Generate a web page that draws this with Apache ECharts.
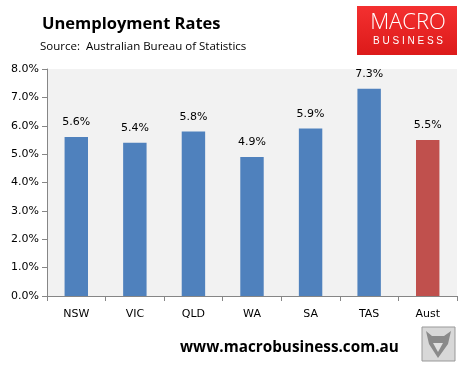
<!DOCTYPE html>
<html><head><meta charset="utf-8">
<script src="https://cdn.jsdelivr.net/npm/echarts@6/dist/echarts.min.js"></script>
<style>html,body{margin:0;padding:0;background:#fff}#c{width:468px;height:366px}</style>
</head><body><div id="c"></div>
<script>
const categories = ['NSW','VIC','QLD','WA','SA','TAS','Aust'];
const values = [5.6, 5.4, 5.8, 4.9, 5.9, 7.3, 5.5];
const barColors = ['#4f81bd','#4f81bd','#4f81bd','#4f81bd','#4f81bd','#4f81bd','#c0504d'];
const yTicks = [0,1,2,3,4,5,6,7,8];

const chart = echarts.init(document.getElementById('c'));
chart.setOption({
  animation: false,
  title: [
    {text: 'Unemployment Rates', left: 37, top: 11,
     textStyle: {fontFamily: 'Open Sans', fontWeight: 'bold', fontSize: 16.5, color: '#000'}},
    {text: 'Source:  Australian Bureau of Statistics', left: 35, top: 36,
     textStyle: {fontFamily: 'Open Sans', fontWeight: 'normal', fontSize: 11.5, color: '#000'}}
  ],
  grid: {left: 47, right: 11, top: 69, bottom: 70, show: true, backgroundColor: '#f2f2f2', borderWidth: 0},
  xAxis: {
    type: 'category', data: categories,
    axisLine: {lineStyle: {color: '#868686'}},
    axisTick: {show: true, alignWithLabel: false, length: 5, lineStyle: {color: '#868686'}},
    axisLabel: {fontFamily: 'DejaVu Sans', fontSize: 11, color: '#000', margin: 13}
  },
  yAxis: {
    type: 'value', min: 0, max: 8, interval: 1,
    axisLine: {show: true, lineStyle: {color: '#868686'}},
    axisTick: {show: true, length: 5, lineStyle: {color: '#868686'}},
    splitLine: {show: false},
    axisLabel: {fontFamily: 'DejaVu Sans', fontSize: 11, color: '#000', margin: 8,
      formatter: v => v.toFixed(1) + '%'}
  },
  series: [{
    type: 'bar', barWidth: '40%',
    data: values.map((v, i) => ({value: v, itemStyle: {color: barColors[i]}})),
    label: {show: true, position: 'top', distance: 9, fontFamily: 'DejaVu Sans', fontSize: 11, color: '#000',
      formatter: p => p.value.toFixed(1) + '%'}
  }],
  graphic: [
    {type: 'rect', shape: {x: 357, y: 6, width: 100, height: 49},
     style: {fill: new echarts.graphic.LinearGradient(0,0,0,1,[{offset:0,color:'#f43030'},{offset:1,color:'#dc1a1a'}])}},
    {type: 'text', style: {text: 'MACRO', fill: '#fff', font: '300 22px "Open Sans", sans-serif', x: 408, y: 12, textAlign: 'center'}},
    {type: 'text', style: {text: 'B U S I N E S S', fill: '#fff', font: '10px "Liberation Sans", sans-serif', x: 408, y: 36, textAlign: 'center'}},
    {type: 'text', style: {text: 'www.macrobusiness.com.au', fill: '#000', font: 'bold 15.3px "Open Sans", sans-serif', x: 180, y: 340}},
    {type: 'rect', shape: {x: 422, y: 327, width: 33, height: 34}, style: {fill: '#d8d8d8', stroke: '#999', lineWidth: 1}},
    {type: 'polygon', shape: {points: [[426,331],[432,336],[444,336],[451,331],[448,344],[438,358],[429,344]]}, style: {fill: '#8a8a8a'}},
    {type: 'polygon', shape: {points: [[433,343],[443,343],[438,352]]}, style: {fill: '#e0e0e0'}}
  ]
});
</script></body></html>
